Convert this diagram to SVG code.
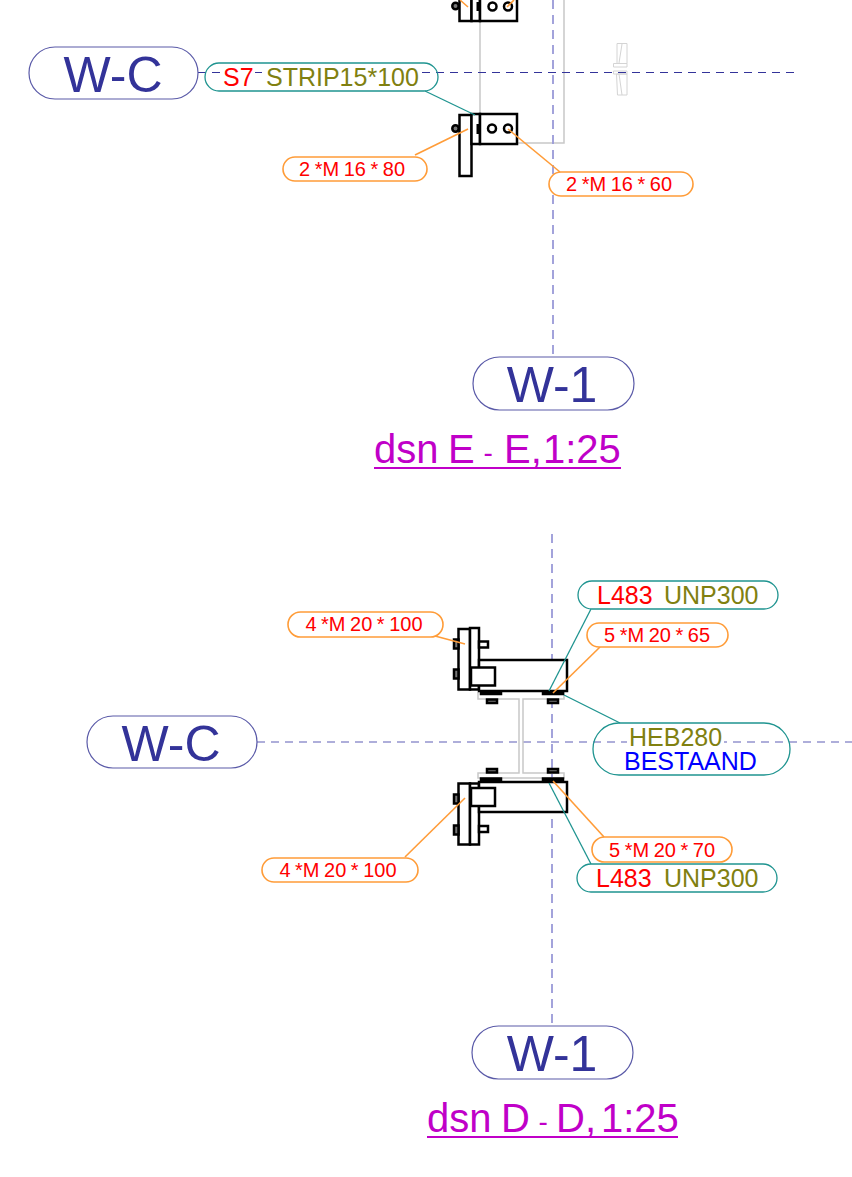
<svg xmlns="http://www.w3.org/2000/svg" width="852" height="1177" viewBox="0 0 852 1177">
<style>
text{font-family:"Liberation Sans",Arial,sans-serif}
.big{font-size:50px;fill:#333399;text-anchor:middle}
.ttl{font-size:40px;fill:#c000c8}
.s{font-size:25px}
.b{font-size:20px;fill:#ff0000;text-anchor:middle;word-spacing:-1px}
.r{fill:#ff0000}.o{fill:#808010}.bl{fill:#0000ff}
.pb{fill:#fff;stroke:#5a5aa8;stroke-width:1.2}
.pt{fill:#fff;stroke:#1f9490;stroke-width:1.3}
.pto{fill:none;stroke:#1f9490;stroke-width:1.3}
.po{fill:#fff;stroke:#ff9c38;stroke-width:1.6}
.k{fill:#fff;stroke:#000;stroke-width:2.500}
.kn{fill:none;stroke:#000;stroke-width:2.500}
.kf{fill:#777;stroke:#000;stroke-width:2.500}
.g{fill:none;stroke:#c8c8c8;stroke-width:1.5}
.g2{fill:none;stroke:#d4d4d4;stroke-width:1}
.dh{stroke:#33339a;stroke-width:1;stroke-dasharray:8 6;fill:none}
.dh2{stroke:#5f5fb5;stroke-width:1.2;stroke-dasharray:8 6;fill:none}
.dv{stroke:#9a9ad8;stroke-width:1.8;stroke-dasharray:9 6;fill:none}
.lt{stroke:#1f9490;stroke-width:1.3;fill:none}
.lo{stroke:#ff9c38;stroke-width:1.6;fill:none}
.w{fill:#fff}
</style>
<g id="steel-E">
<path class="g" d="M480 0V114M564 0V143H517"/>
<path class="g2" d="M617 43.500H627V63.500H617ZM613.500 63.500H627V67H613.500ZM622 44L619 63M613.500 71H627V74H613.500ZM616.500 74H627V95H617.500ZM619 74L622 95"/>
<path class="dv" d="M553 0V357"/>
<path class="dh" d="M198 72.500H797"/>
<rect class="k" x="459.500" y="-10" width="12" height="31"/>
<rect class="k" x="471.500" y="-10" width="8.500" height="31"/>
<rect class="k" x="480" y="-10" width="37" height="31"/>
<circle cx="455.500" cy="6" r="3.200" class="kf"/>
<circle cx="492.500" cy="6.500" r="4" class="kn"/><circle cx="508" cy="6.500" r="4" class="kn"/>
<path d="M478 2V11" stroke="#000" stroke-width="3"/>
<rect class="k" x="459.500" y="115" width="12" height="61"/>
<rect class="k" x="471.500" y="114" width="8.500" height="30"/>
<rect class="k" x="480" y="114" width="37" height="30"/>
<circle cx="455.500" cy="128.500" r="3.200" class="kf"/>
<circle cx="492" cy="128.500" r="4" class="kn"/><circle cx="508" cy="128.500" r="4" class="kn"/>
<path d="M478 124V134" stroke="#000" stroke-width="3"/>
</g>
<g id="steel-D">
<path class="dv" d="M552 534V1026"/>
<path class="dh2" d="M257 742H852"/>
<path class="g" d="M478 692V699H519V773H478V778H564V773H523V699H564V692"/>
<rect class="k" x="458.500" y="629" width="11.500" height="60.500"/>
<rect class="k" x="470" y="628" width="9" height="61.500"/>
<rect class="k" x="479" y="660" width="88" height="31"/>
<rect class="k" x="471" y="667.500" width="24" height="18"/>
<rect class="k" x="479" y="641.500" width="9" height="6"/>
<rect class="kf" x="454" y="639.500" width="4.500" height="9"/>
<rect class="kf" x="454" y="669.500" width="4.500" height="9"/>
<rect class="kf" x="481" y="691.500" width="20" height="2.500"/>
<rect class="kf" x="543" y="691.500" width="20" height="2.500"/>
<rect class="kf" x="487" y="699.500" width="10" height="3.500"/>
<rect class="kf" x="548" y="699.500" width="10" height="3.500"/>
<rect class="k" x="458.500" y="783.500" width="11.500" height="61"/>
<rect class="k" x="470" y="783.500" width="9" height="61"/>
<rect class="k" x="479" y="782" width="88" height="30"/>
<rect class="k" x="471" y="788" width="24" height="18"/>
<rect class="k" x="479" y="826" width="9" height="6"/>
<rect class="kf" x="454" y="794.500" width="4.500" height="9"/>
<rect class="kf" x="454" y="825.500" width="4.500" height="9"/>
<rect class="kf" x="481" y="778.500" width="20" height="2.500"/>
<rect class="kf" x="543" y="778.500" width="20" height="2.500"/>
<rect class="kf" x="487" y="769" width="10" height="3.500"/>
<rect class="kf" x="548" y="769" width="10" height="3.500"/>
</g>
<g id="connectors">
<path class="lt" d="M425 91L475 115"/>
<path class="lo" d="M415 155L468 129"/>
<path class="lo" d="M508 129L560 172"/>
<path class="lo" d="M460 0L468 7M514 0L507 7"/>
<path class="lo" d="M435 636L465 644"/>
<path class="lt" d="M591 609L549 691"/>
<path class="lo" d="M600 647L553 693"/>
<path class="lt" d="M564 695L620 723"/>
<path class="lo" d="M405 857L465 798"/>
<path class="lo" d="M553 781L604 837"/>
<path class="lt" d="M549 783L591 864"/>
</g>
<g id="n-wc-e"><rect class="pb" x="29" y="47" width="169" height="52" rx="26"/><text class="big" x="113" y="92">W-C</text></g>
<g id="n-strip"><rect class="pto" x="205" y="63" width="233" height="28" rx="14"/><rect class="w" x="222" y="66" width="33" height="13"/><rect class="w" x="264" y="66" width="156" height="13"/><text class="s" x="223" y="86"><tspan class="r">S7</tspan><tspan class="o" x="266">STRIP15*100</tspan></text></g>
<g id="n-b1"><rect class="po" x="283" y="157" width="144" height="24" rx="12"/><text class="b" x="352" y="176">2 *M 16 * 80</text></g>
<g id="n-b2"><rect class="po" x="549" y="172" width="144" height="24" rx="12"/><text class="b" x="619" y="191">2 *M 16 * 60</text></g>
<g id="n-w1-e"><rect class="pb" x="473" y="357" width="161" height="53" rx="26.500"/><text class="big" x="552" y="402">W-1</text></g>
<g id="title-e"><text class="ttl" y="463"><tspan x="374">dsn</tspan><tspan x="448">E</tspan><tspan x="483.500" font-size="28" dy="-1.500">-</tspan><tspan x="504" dy="1.500">E,</tspan><tspan x="543">1:25</tspan></text><path d="M374 468H621" stroke="#c000c8" stroke-width="2"/></g>
<g id="n-wc-d"><rect class="pb" x="87" y="716" width="170" height="52" rx="26"/><text class="big" x="171" y="761">W-C</text></g>
<g id="n-l1"><rect class="pt" x="578" y="581" width="200" height="28" rx="14"/><text class="s" x="597" y="604"><tspan class="r">L483</tspan><tspan class="o" x="664">UNP300</tspan></text></g>
<g id="n-b3"><rect class="po" x="288" y="612" width="155" height="25" rx="12.500"/><text class="b" x="364" y="631">4 *M 20 * 100</text></g>
<g id="n-b4"><rect class="po" x="587" y="623" width="141" height="24" rx="12"/><text class="b" x="657" y="642">5 *M 20 * 65</text></g>
<g id="n-heb"><rect class="pto" x="593" y="723" width="197" height="52" rx="26"/><rect class="w" x="627" y="736" width="97" height="12"/><text class="s o" x="629" y="746">HEB280</text><text class="s bl" x="624" y="770">BESTAAND</text></g>
<g id="n-b5"><rect class="po" x="262" y="858" width="156" height="24" rx="12"/><text class="b" x="338" y="877">4 *M 20 * 100</text></g>
<g id="n-b6"><rect class="po" x="592" y="837" width="140" height="25" rx="12.500"/><text class="b" x="662" y="857">5 *M 20 * 70</text></g>
<g id="n-l2"><rect class="pt" x="577" y="864" width="200" height="28" rx="14"/><text class="s" x="596" y="887"><tspan class="r">L483</tspan><tspan class="o" x="664">UNP300</tspan></text></g>
<g id="n-w1-d"><rect class="pb" x="472" y="1026" width="161" height="53" rx="26.500"/><text class="big" x="552" y="1071">W-1</text></g>
<g id="title-d"><text class="ttl" y="1132"><tspan x="427">dsn</tspan><tspan x="501">D</tspan><tspan x="538.500" font-size="28" dy="-1.500">-</tspan><tspan x="556" dy="1.500">D,</tspan><tspan x="601">1:25</tspan></text><path d="M427 1137H678" stroke="#c000c8" stroke-width="2"/></g>
</svg>
